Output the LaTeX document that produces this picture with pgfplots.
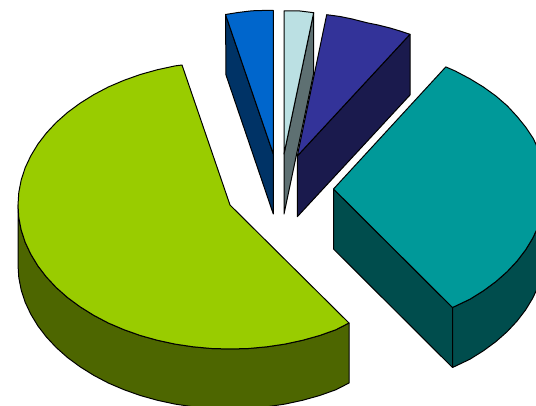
\documentclass[border=0pt]{standalone}
\usepackage{pgfplots}
\pgfplotsset{compat=1.18}
\definecolor{gT}{HTML}{99CC00}\definecolor{gS}{HTML}{4D6600}
\definecolor{tT}{HTML}{009999}\definecolor{tS}{HTML}{004D4D}
\definecolor{pT}{HTML}{333399}\definecolor{pS}{HTML}{1A1A4D}
\definecolor{cT}{HTML}{BBE0E3}\definecolor{cS}{HTML}{5E7072}
\definecolor{bT}{HTML}{0066CC}\definecolor{bS}{HTML}{003366}
\begin{document}
\begin{tikzpicture}
\useasboundingbox (0,0) rectangle (536pt,406pt);
\begin{axis}[at={(0,0)},anchor=south west,hide axis,scale only axis,width=536pt,height=406pt,
  xmin=0,xmax=536,ymin=0,ymax=406,y dir=reverse,
  every axis plot/.append style={draw=black,line width=1pt,line join=round,no markers}]
% blue slice
\addplot[fill=bS] coordinates {(225.5,14.5)(273.3,154)(273.3,214)(226,75)} --cycle;
\addplot[fill=bT] coordinates {(273.3,154)(225.5,14.5)(238,12.5)(252,10.8)(262,10.5)(273.3,10.5)} --cycle;
% light cyan slice
\addplot[fill=cS] coordinates {(284,154)(313.7,12.7)(313.7,73)(284,214)} --cycle;
\addplot[fill=cT] coordinates {(284,154)(284,11)(300,11)(313.7,12.7)} --cycle;
% purple slice
\addplot[fill=pS] coordinates {(297.3,156)(410,34.3)(410,95)(297.3,216.7)} --cycle;
\addplot[fill=pT] coordinates {(297.3,156)(326.7,14.7)(340,16.5)(352.2,19)(366.7,22.7)(378,25)(390,28)(400,31)(410,34.3)} --cycle;
% teal slice
\addplot[fill=tS] coordinates {(333.5,189)(452.5,307.5)(452.5,367.5)(333.5,249)} --cycle;
\addplot[fill=tS] coordinates {(452.5,307.5)(469.8,299.3)(483.4,290.8)(495.9,281.6)(507.2,271.6)(517.1,261)(525.6,249.9)(532.7,238.2)(538.3,226.3)(542.3,214)(544.7,201.6)(545.5,189)(545.5,249)(544.7,261.6)(542.3,274)(538.3,286.3)(532.7,298.2)(525.6,309.9)(517.1,321)(507.2,331.6)(495.9,341.6)(483.4,350.8)(469.8,359.3)(452.5,367.5)} --cycle;
\addplot[fill=tT] coordinates {(333.5,189)(445.8,66.9)(455.2,71)(469.8,78.7)(483.4,87)(495.9,96)(507.2,105.8)(517.1,116.5)(525.6,127)(533.3,138.5)(538.8,150.5)(542.3,164)(544.7,176.4)(545.5,189)(544.7,201.6)(542.3,214)(538.3,226.3)(532.7,238.2)(525.6,249.9)(517.1,261)(507.2,271.6)(495.9,281.6)(483.4,290.8)(469.8,299.3)(452.5,307.5)} --cycle;
% green slice
\addplot[fill=gS] coordinates {(18,205)(18.8,217.6)(21.2,230)(25.2,242.3)(30.8,254.2)(37.9,265.9)(46.4,277)(56.3,287.6)(67.6,297.6)(80.1,306.8)(93.7,315.3)(108.3,323)(124,329.7)(140.3,335.5)(157.5,340.3)(175.1,344.1)(193.2,346.8)(211.5,348.5)(230,349)(248.5,348.5)(266.8,346.8)(284.9,344.1)(302.5,340.3)(319.7,335.5)(336,329.7)(349,323)(349,383)(336,389.7)(319.7,395.5)(302.5,400.3)(284.9,404.1)(266.8,406.8)(248.5,408.5)(230,409)(211.5,408.5)(193.2,406.8)(175.1,404.1)(157.5,400.3)(140.3,395.5)(124,389.7)(108.3,383)(93.7,375.3)(80.1,366.8)(67.6,357.6)(56.3,347.6)(46.4,337)(37.9,325.9)(30.8,314.2)(25.2,302.3)(21.2,290)(18.8,277.6)(18,265)} --cycle;
\addplot[fill=gT] coordinates {(230,205)(182,65)(175.1,65.9)(157.5,69.7)(140.3,74.5)(124,80.3)(108.3,87)(93.7,94.7)(80.1,103.2)(67.6,112.4)(56.3,122.4)(46.4,133)(37.9,144.1)(30.8,155.8)(25.2,167.7)(21.2,180)(18.8,192.4)(18,205)(18.8,217.6)(21.2,230)(25.2,242.3)(30.8,254.2)(37.9,265.9)(46.4,277)(56.3,287.6)(67.6,297.6)(80.1,306.8)(93.7,315.3)(108.3,323)(124,329.7)(140.3,335.5)(157.5,340.3)(175.1,344.1)(193.2,346.8)(211.5,348.5)(230,349)(248.5,348.5)(266.8,346.8)(284.9,344.1)(302.5,340.3)(319.7,335.5)(336,329.7)(349,323)} --cycle;
\end{axis}
\end{tikzpicture}
\end{document}
